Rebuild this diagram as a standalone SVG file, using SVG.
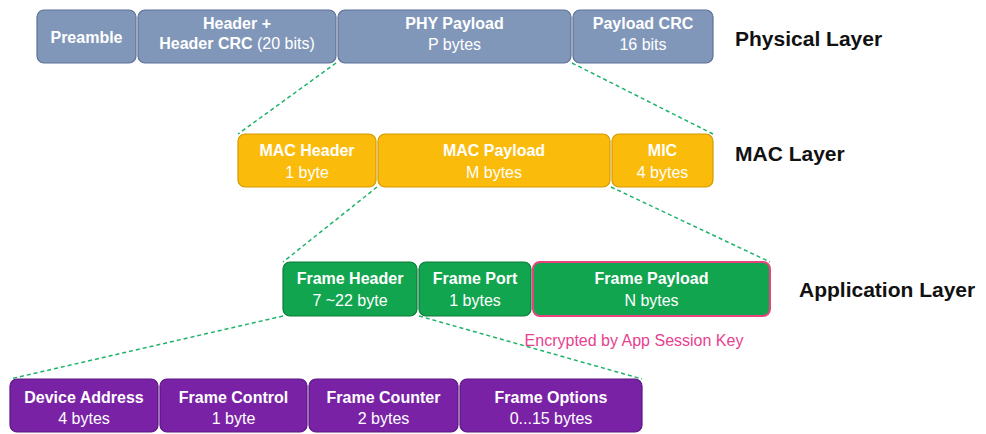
<svg xmlns="http://www.w3.org/2000/svg" width="986" height="434" viewBox="0 0 986 434">
<style>
text{font-family:"Liberation Sans",Arial,sans-serif;text-anchor:middle}
.t{fill:#fff;font-size:16px;font-weight:bold}
.s{fill:#fff;font-size:16px}
.phy{fill:#8197ba;stroke:#5d7197;stroke-width:1.2}
.mac{fill:#fbbb0a;stroke:#d49a00;stroke-width:1.2}
.app{fill:#12a54f;stroke:#0c7a39;stroke-width:1.2}
.fh{fill:#7a22a6;stroke:#5b1782;stroke-width:1.2}
.lay{fill:#111;font-size:21px;font-weight:bold;text-anchor:start}
.c{stroke:#1fb36a;stroke-width:1.5;stroke-dasharray:4 3;fill:none}
</style>
<rect width="986" height="434" fill="#fff"/>
<g id="connectors">
<line class="c" x1="336" y1="63" x2="238" y2="134"/>
<line class="c" x1="572" y1="63" x2="713" y2="134"/>
<line class="c" x1="377" y1="187" x2="283" y2="262"/>
<line class="c" x1="611" y1="187" x2="770" y2="262"/>
<line class="c" x1="283" y1="316" x2="10" y2="379"/>
<line class="c" x1="419" y1="316" x2="642" y2="379"/>
</g>
<g id="preamble"><rect class="phy" x="37" y="10" width="99" height="53" rx="7"/><text class="t" x="86.5" y="43">Preamble</text></g>
<g id="header"><rect class="phy" x="138" y="10" width="198" height="53" rx="7"/><text class="t" x="237" y="29">Header +</text><text class="t" x="237" y="49">Header CRC <tspan style="font-weight:normal">(20 bits)</tspan></text></g>
<g id="phy-payload"><rect class="phy" x="338" y="10" width="233" height="53" rx="7"/><text class="t" x="454.5" y="29">PHY Payload</text><text class="s" x="454.5" y="50">P bytes</text></g>
<g id="payload-crc"><rect class="phy" x="573" y="10" width="140" height="53" rx="7"/><text class="t" x="643" y="29">Payload CRC</text><text class="s" x="643" y="50">16 bits</text></g>
<g id="physical-layer"><text class="lay" x="735" y="46">Physical Layer</text></g>

<g id="mac-header"><rect class="mac" x="238" y="134" width="138" height="53" rx="7"/><text class="t" x="307" y="156">MAC Header</text><text class="s" x="307" y="178">1 byte</text></g>
<g id="mac-payload"><rect class="mac" x="378" y="134" width="232" height="53" rx="7"/><text class="t" x="494" y="156">MAC Payload</text><text class="s" x="494" y="178">M bytes</text></g>
<g id="mic"><rect class="mac" x="612" y="134" width="101" height="53" rx="7"/><text class="t" x="662.5" y="156">MIC</text><text class="s" x="662.5" y="178">4 bytes</text></g>
<g id="mac-layer"><text class="lay" x="735" y="161">MAC Layer</text></g>

<g id="frame-header"><rect class="app" x="283" y="262" width="134" height="54" rx="7"/><text class="t" x="350" y="284">Frame Header</text><text class="s" x="350" y="306">7 ~22 byte</text></g>
<g id="frame-port"><rect class="app" x="419" y="262" width="112" height="54" rx="7"/><text class="t" x="475" y="284">Frame Port</text><text class="s" x="475" y="306">1 bytes</text></g>
<g id="frame-payload"><rect x="533" y="262" width="237" height="54" rx="7" fill="#12a54f" stroke="#e8437e" stroke-width="2"/><text class="t" x="651.5" y="284">Frame Payload</text><text class="s" x="651.5" y="306">N bytes</text></g>
<g id="application-layer"><text class="lay" x="799" y="297">Application Layer</text></g>
<g id="encrypted-note"><text x="634" y="346" style="fill:#e8418f;font-size:16px">Encrypted by App Session Key</text></g>

<g id="device-address"><rect class="fh" x="10" y="379" width="148" height="53" rx="7"/><text class="t" x="84" y="403">Device Address</text><text class="s" x="84" y="424">4 bytes</text></g>
<g id="frame-control"><rect class="fh" x="160" y="379" width="147" height="53" rx="7"/><text class="t" x="233.5" y="403">Frame Control</text><text class="s" x="233.5" y="424">1 byte</text></g>
<g id="frame-counter"><rect class="fh" x="309" y="379" width="149" height="53" rx="7"/><text class="t" x="383.5" y="403">Frame Counter</text><text class="s" x="383.5" y="424">2 bytes</text></g>
<g id="frame-options"><rect class="fh" x="460" y="379" width="182" height="53" rx="7"/><text class="t" x="551" y="403">Frame Options</text><text class="s" x="551" y="424">0...15 bytes</text></g>
</svg>
